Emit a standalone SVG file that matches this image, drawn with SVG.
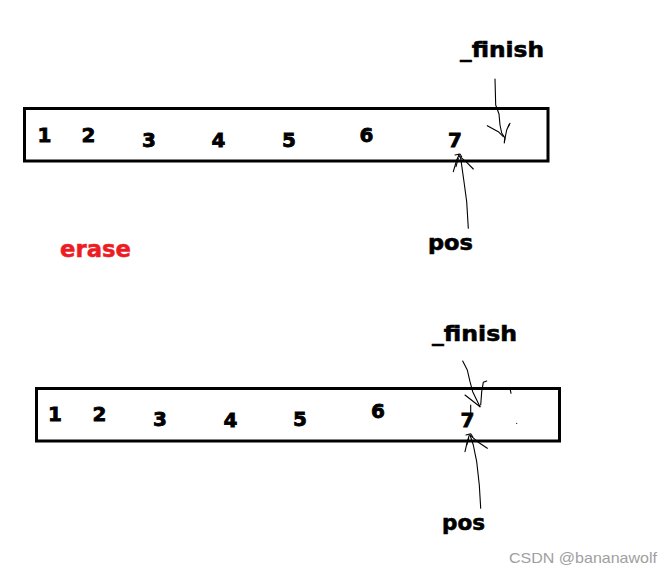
<svg xmlns="http://www.w3.org/2000/svg" width="667" height="572" viewBox="0 0 667 572">
<style>
.box{fill:none;stroke:#000;stroke-width:3}
.d{font-family:"DejaVu Sans",sans-serif;font-weight:bold;font-size:20px;fill:#000;stroke:#000;stroke-width:0.8;text-anchor:middle}
.lbl{font-family:"DejaVu Sans",sans-serif;font-weight:bold;font-size:22px;fill:#000;stroke:#000;stroke-width:0.6}
.ink{fill:none;stroke:#000;stroke-width:1.1;stroke-linecap:round;stroke-linejoin:round}
</style>
<rect width="667" height="572" fill="#fff"/>
<g id="array-before">
<rect class="box" x="24.5" y="108.5" width="523.5" height="52.5"/>
<text class="d" x="44.5" y="142">1</text>
<text class="d" x="88.5" y="142">2</text>
<text class="d" x="149" y="147">3</text>
<text class="d" x="218.5" y="147">4</text>
<text class="d" x="289" y="147">5</text>
<text class="d" x="366.5" y="142">6</text>
<text class="d" x="455" y="147">7</text>
</g>
<g id="label-finish-1"><text class="lbl" x="460" y="57" textLength="84" lengthAdjust="spacingAndGlyphs">_finish</text></g>
<g id="label-pos-1"><text class="lbl" x="428" y="250" textLength="45" lengthAdjust="spacingAndGlyphs">pos</text></g>
<g id="label-erase"><text x="60" y="257" font-family="DejaVu Sans,sans-serif" font-weight="bold" font-size="23" fill="#ed1c24" stroke="#ed1c24" stroke-width="0.5" textLength="71" lengthAdjust="spacingAndGlyphs">erase</text></g>
<g id="array-after">
<rect class="box" x="36.5" y="388.5" width="523" height="52.5"/>
<text class="d" x="55" y="421">1</text>
<text class="d" x="99.5" y="421">2</text>
<text class="d" x="160" y="426">3</text>
<text class="d" x="230.5" y="427">4</text>
<text class="d" x="300" y="426">5</text>
<text class="d" x="378" y="418">6</text>
<text class="d" x="467.5" y="427">7</text>
</g>
<g id="label-finish-2"><text class="lbl" x="432" y="341" textLength="85" lengthAdjust="spacingAndGlyphs">_finish</text></g>
<g id="label-pos-2"><text class="lbl" x="442" y="530" textLength="43" lengthAdjust="spacingAndGlyphs">pos</text></g>
<g id="connectors">
<path class="ink" d="M495,79 L495.7,105 L499,114 L500,125 L501.7,133 L505,138 L504.3,143"/>
<path class="ink" d="M487.3,125.7 L498.3,131.7 L503.3,136.7"/>
<path class="ink" d="M509.3,124.3 L506.7,130 L504.3,141.7"/>
<path class="ink" d="M508.3,126.7 L510,123.3"/>
<path class="ink" d="M468.3,228.3 L466.7,201.7 L464,181.7 L460.7,158.3 L458.3,154.3"/>
<path class="ink" d="M453.3,171.7 L456.7,160 L459,155"/>
<path class="ink" d="M473.3,169 L466.7,162.3 L460,156.7"/>
<path class="ink" d="M455,155 L460,154 L461.7,156.7"/>
<path class="ink" d="M456,166.7 L458.3,158.3"/>
<path class="ink" d="M462.7,361 L467.3,370 L470,381.7 L472.7,391.7 L476.7,400 L480,406.7"/>
<path class="ink" d="M465,395 L480,406.7"/>
<path class="ink" d="M486.7,381 L483.3,382.3 L481.7,391.7 L480.7,405"/>
<path class="ink" d="M470.7,405 L470.7,413.3"/>
<path class="ink" d="M510,388.3 L511,393.3"/>
<circle cx="516.7" cy="423.3" r="0.6" fill="#000"/>
<path class="ink" d="M480.7,508.3 L479.3,485 L476.7,461.7 L473.3,445 L470,435"/>
<path class="ink" d="M465,451.7 L467.3,441.7 L469.3,435"/>
<path class="ink" d="M487.3,448.3 L478.3,442.3 L470.7,435.7"/>
<path class="ink" d="M466,435 L470.7,433.7 L472.7,436.7"/>
<path class="ink" d="M466.7,445 L468.7,438.3"/>
</g>
<text x="509" y="563" font-family="Liberation Sans,Arial,sans-serif" font-size="14.5" fill="#a0a0a0" textLength="148" lengthAdjust="spacingAndGlyphs">CSDN @bananawolf</text>
</svg>
